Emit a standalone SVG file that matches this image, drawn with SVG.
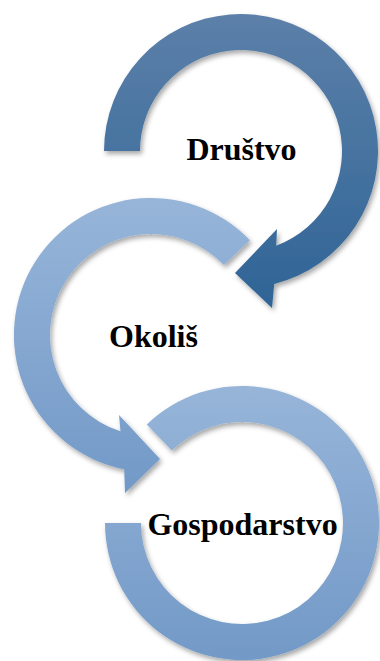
<svg xmlns="http://www.w3.org/2000/svg" width="380" height="661" viewBox="0 0 380 661">
<style>
.lbl{font-family:"Liberation Serif","Times New Roman",serif;font-weight:bold;font-size:32px;fill:#000;text-anchor:middle}
</style>
<defs>
<linearGradient id="gDark" x1="0" y1="0" x2="0" y2="1">
<stop offset="0" stop-color="#5c80a9"/>
<stop offset="1" stop-color="#2f6496"/>
</linearGradient>
<linearGradient id="gLight" x1="0" y1="0" x2="0" y2="1">
<stop offset="0" stop-color="#97b5d9"/>
<stop offset="1" stop-color="#7299c7"/>
</linearGradient>
<filter id="sh" x="-10%" y="-10%" width="120%" height="120%">
<feDropShadow dx="2" dy="3" stdDeviation="2.5" flood-color="#000" flood-opacity="0.35"/>
</filter>
</defs>
<rect width="380" height="661" fill="#fff"/>
<g id="connectors" filter="url(#sh)">
<path id="arrow-drustvo" fill="url(#gDark)" d="M104 151 A137 137 0 1 1 274.2 283.9 L272 308 L235 273 L277 229 L276.2 245.7 A101 101 0 1 0 140 151 Z"/>
<path id="arrow-okolis" fill="url(#gLight)" d="M249.9 240.2 A137 137 0 1 0 124.2 469.3 L125 493 L160 459 L119 415 L120.5 431.3 A101 101 0 1 1 223.9 265.1 Z"/>
<path id="arrow-gospodarstvo" fill="url(#gLight)" d="M146.8 424.5 A137 137 0 1 1 105 523 L141 523 A101 101 0 1 0 171.8 450.4 Z"/>
</g>
<g id="node-drustvo"><text class="lbl" x="241.5" y="160">Društvo</text></g>
<g id="node-okolis"><text class="lbl" x="153.5" y="347">Okoliš</text></g>
<g id="node-gospodarstvo"><text class="lbl" x="242.5" y="535">Gospodarstvo</text></g>
</svg>
